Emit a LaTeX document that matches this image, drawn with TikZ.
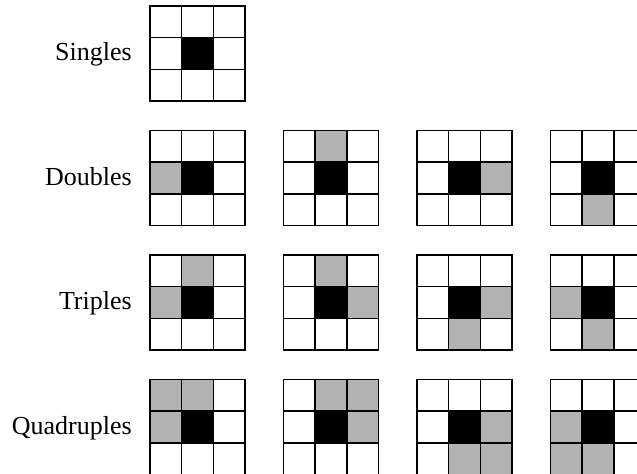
\documentclass[tikz,border=0pt]{standalone}
\usepackage{fontspec}
\setmainfont{Liberation Serif}
\definecolor{cellgray}{gray}{0.7}
\newcommand\mygrid[3]{%
  \foreach \c/\r in {#3} {\fill[cellgray] (#1+\c*31.7, #2+\r*31.7) rectangle ++(31.7,31.7);}
  \fill[black] (#1+31.7,#2+31.7) rectangle ++(31.7,31.7);
  \foreach \i in {0,...,3} {
    \draw[gridline] (#1+\i*31.7,#2) -- ++(0,95.1);
    \draw[gridline] (#1,#2+\i*31.7) -- ++(95.1,0);
  }
}
\begin{document}
\begin{tikzpicture}[x=0.75pt,y=-0.75pt,
  gridline/.style={line width=1.1pt, line cap=rect},
  rowlabel/.style={anchor=base east, inner sep=0pt, font=\fontsize{19.5}{22}\selectfont}]
\useasboundingbox (0,0) rectangle (637,474);
\clip (0,0) rectangle (637,474);
% labels
\node[rowlabel] (singles) at (132,61) {Singles};
\node[rowlabel] (doubles) at (132,185.5) {Doubles};
\node[rowlabel] (triples) at (132,310) {Triples};
\node[rowlabel] (quadruples) at (132,434.5) {Quadruples};
% singles
\mygrid{150}{6}{1/1}
% doubles
\mygrid{150}{130.5}{0/1}
\mygrid{283.5}{130.5}{1/0}
\mygrid{417}{130.5}{2/1}
\mygrid{550.5}{130.5}{1/2}
% triples
\mygrid{150}{255}{1/0,0/1}
\mygrid{283.5}{255}{1/0,2/1}
\mygrid{417}{255}{2/1,1/2}
\mygrid{550.5}{255}{0/1,1/2}
% quadruples
\mygrid{150}{379.5}{0/0,1/0,0/1}
\mygrid{283.5}{379.5}{1/0,2/0,2/1}
\mygrid{417}{379.5}{2/1,1/2,2/2}
\mygrid{550.5}{379.5}{0/1,0/2,1/2}
\end{tikzpicture}
\end{document}
